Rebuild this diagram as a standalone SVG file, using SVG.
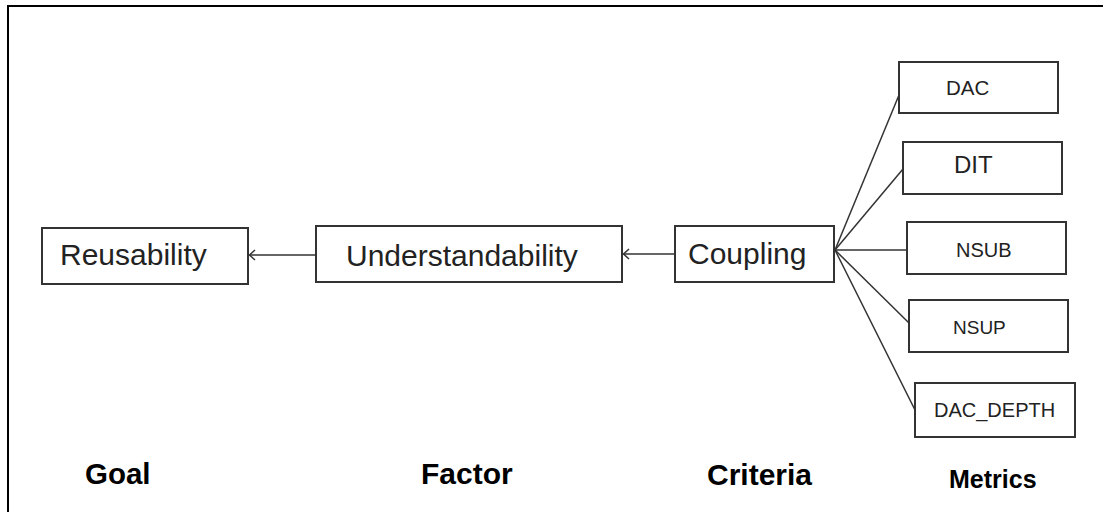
<svg xmlns="http://www.w3.org/2000/svg" width="1103" height="512" viewBox="0 0 1103 512">
<style>
.box{fill:#fff;stroke:#333;stroke-width:2}
.lbl{font-family:"Liberation Sans",Arial,sans-serif;font-size:30px;fill:#222}
.m{font-family:"Liberation Sans",Arial,sans-serif;fill:#222}
.hd{font-family:"Liberation Sans",Arial,sans-serif;font-weight:bold;fill:#000}
.ln{stroke:#333;stroke-width:1.5;fill:none}
</style>
<defs>
<marker id="arr" markerWidth="10" markerHeight="12" refX="6" refY="6" orient="auto" markerUnits="userSpaceOnUse">
<path d="M0.5,1 L6,6 L0.5,11" fill="none" stroke="#333" stroke-width="1.5"/>
</marker>
</defs>
<rect width="1103" height="512" fill="#fff"/>
<path d="M8,512 V6 H1103" fill="none" stroke="#000" stroke-width="2"/>
<g id="reusability"><rect class="box" x="42" y="228" width="206" height="56"/><text class="lbl" x="60" y="265">Reusability</text></g>
<g id="understandability"><rect class="box" x="316" y="226" width="306" height="56"/><text class="lbl" x="346" y="266">Understandability</text></g>
<g id="coupling"><rect class="box" x="675" y="226" width="159" height="56"/><text class="lbl" x="688" y="264">Coupling</text></g>
<g id="dac"><rect class="box" x="899" y="62" width="159" height="51"/><text class="m" x="946" y="95" font-size="20.5">DAC</text></g>
<g id="dit"><rect class="box" x="903" y="142" width="159" height="52"/><text class="m" x="954" y="173" font-size="24">DIT</text></g>
<g id="nsub"><rect class="box" x="907" y="222" width="159" height="52"/><text class="m" x="956" y="257" font-size="20">NSUB</text></g>
<g id="nsup"><rect class="box" x="909" y="300" width="159" height="52"/><text class="m" x="953" y="334" font-size="19">NSUP</text></g>
<g id="dac_depth"><rect class="box" x="915" y="383" width="160" height="54"/><text class="m" x="934" y="417" font-size="20">DAC_DEPTH</text></g>
<g id="connectors">
<line class="ln" x1="316" y1="255" x2="249.5" y2="255" marker-end="url(#arr)"/>
<line class="ln" x1="675" y1="254" x2="623.5" y2="254" marker-end="url(#arr)"/>
<line class="ln" x1="835" y1="250" x2="899" y2="95"/>
<line class="ln" x1="835" y1="250" x2="903" y2="169"/>
<line class="ln" x1="835" y1="250" x2="907" y2="250"/>
<line class="ln" x1="835" y1="250" x2="909" y2="323"/>
<line class="ln" x1="835" y1="250" x2="915" y2="410"/>
</g>
<g id="headings">
<text class="hd" x="85" y="484" font-size="29.5">Goal</text>
<text class="hd" x="421" y="484" font-size="30">Factor</text>
<text class="hd" x="707" y="485" font-size="30">Criteria</text>
<text class="hd" x="949" y="488" font-size="25">Metrics</text>
</g>
</svg>
